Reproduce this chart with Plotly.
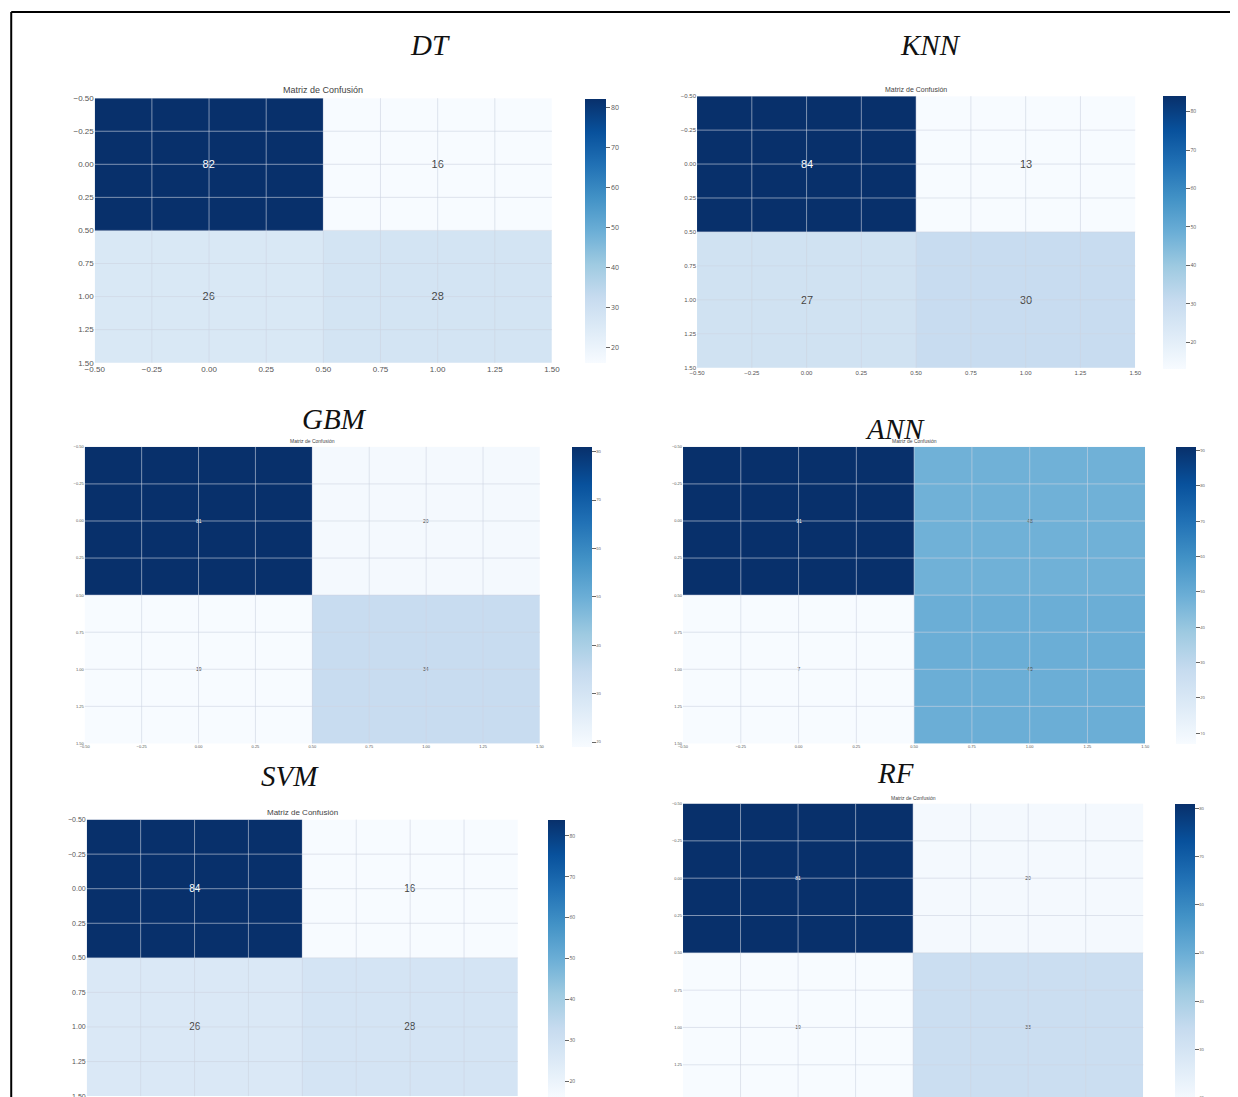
import plotly.graph_objects as go
from plotly.colors import sequential

W, H = 1238, 1097
HF = 1112  # figure slightly taller than the window so the bottom panels run off the edge

# ---------------- data ----------------
models = ["DT", "KNN", "GBM", "ANN", "SVM", "RF"]
cm_dt = [[82, 16], [26, 28]]
cm_knn = [[84, 13], [27, 30]]
cm_gbm = [[81, 20], [19, 34]]
cm_ann = [[91, 48], [7, 49]]
cm_svm = [[84, 16], [26, 28]]
cm_rf = [[81, 20], [19, 33]]
matrices = [cm_dt, cm_knn, cm_gbm, cm_ann, cm_svm, cm_rf]
classes = [0, 1]
axis_ticks = [-0.5, -0.25, 0.0, 0.25, 0.5, 0.75, 1.0, 1.25, 1.5]
cbar_ticks_dt = [20, 30, 40, 50, 60, 70, 80]
cbar_ticks_knn = [20, 30, 40, 50, 60, 70, 80]
cbar_ticks_gbm = [20, 30, 40, 50, 60, 70, 80]
cbar_ticks_ann = [10, 20, 30, 40, 50, 60, 70, 80, 90]
cbar_ticks_svm = [20, 30, 40, 50, 60, 70, 80]
cbar_ticks_rf = [20, 30, 40, 50, 60, 70, 80]
cbar_ticks = [cbar_ticks_dt, cbar_ticks_knn, cbar_ticks_gbm, cbar_ticks_ann, cbar_ticks_svm, cbar_ticks_rf]
subtitle = "Matriz de Confusión"

# ---------------- layout (target pixels) ----------------
panels = [
    dict(plot=(95, 552, 98, 362), cbar=(585, 606, 99, 362), title=(430, 45), tick=8, txt=11, cbt=7),
    dict(plot=(697, 1135, 96, 367), cbar=(1163, 1186, 96, 368), title=(930, 45), tick=6, txt=11, cbt=5),
    dict(plot=(85, 540, 446, 742), cbar=(572, 592, 446, 745), title=(335, 418), tick=4, txt=5, cbt=4),
    dict(plot=(683, 1145, 446, 742), cbar=(1176, 1196, 446, 742), title=(895, 428), tick=4, txt=5, cbt=4),
    dict(plot=(87, 518, 818, 1094), cbar=(548, 565, 818, 1095), title=(290, 775), tick=7, txt=10, cbt=5),
    dict(plot=(683, 1143, 802, 1100), cbar=(1175, 1195, 802, 1100), title=(895, 772), tick=4, txt=5, cbt=4),
]

def clamp(v):
    return max(0.0, min(1.0, v))

# empirical correction between target pixels and layout pixels
def dx(x):
    return (x - 10.3) / 0.985

def dy(y):
    return (y - 4) / 0.99

def px(x):
    return clamp(dx(x) / W)

def py(y):
    return clamp(1 - dy(y) / HF)

blues = [[i / (len(sequential.Blues) - 1), c] for i, c in enumerate(sequential.Blues)]

fig = go.Figure()
annotations = []
shapes = []

for i, (name, cm, p, cbt) in enumerate(zip(models, matrices, panels, cbar_ticks)):
    n = "" if i == 0 else str(i + 1)
    xa, ya = "x" + n, "y" + n
    x0, x1, y0, y1 = p["plot"]
    c0, c1, cy0, cy1 = p["cbar"]
    fig.add_trace(go.Heatmap(
        z=cm, x=classes, y=classes, xaxis=xa, yaxis=ya,
        colorscale=blues, zmin=min(min(r) for r in cm), zmax=max(max(r) for r in cm),
        texttemplate="%{z}", textfont=dict(size=p["txt"], family="Arial, Liberation Sans"),
        hoverinfo="z",
        colorbar=dict(
            x=px(c0), xanchor="left", xpad=0, ypad=0,
            thickness=(dx(c1) - dx(c0)), thicknessmode="pixels",
            y=py(cy0), yanchor="top", len=py(cy0) - py(cy1), lenmode="fraction",
            tickvals=cbt, ticks="outside", ticklen=4, tickcolor="#666",
            tickfont=dict(size=p["cbt"], color="#555"), outlinewidth=0,
        ),
    ))
    axis_common = dict(
        tickvals=axis_ticks, tickformat=".2f", showgrid=False, zeroline=False,
        showline=False, ticks="", tickfont=dict(size=p["tick"], color="#555",
                                               family="Arial, Liberation Sans"),
        range=[-0.5, 1.5],
    )
    fig.layout["xaxis" + n] = dict(axis_common, domain=[px(x0), px(x1)], anchor=ya)
    fig.layout["yaxis" + n] = dict(axis_common, domain=[py(y1), py(y0)], anchor=xa,
                                   range=[1.5, -0.5])
    for t in axis_ticks[1:-1]:
        shapes.append(dict(type="line", xref=xa, yref=ya + " domain", x0=t, x1=t, y0=0, y1=1,
                           line=dict(color="rgba(205,212,225,0.6)", width=1), layer="above"))
        shapes.append(dict(type="line", xref=xa + " domain", yref=ya, x0=0, x1=1, y0=t, y1=t,
                           line=dict(color="rgba(205,212,225,0.6)", width=1), layer="above"))
    annotations.append(dict(text=subtitle, xref="paper", yref="paper",
                            x=px((x0 + x1) / 2), y=py(y0 - 1), xanchor="center", yanchor="bottom",
                            showarrow=False, font=dict(size=max(p["tick"] + 1, 5), color="#444",
                                                       family="Arial, Liberation Sans")))
    tx, ty = p["title"]
    annotations.append(dict(text="<i>" + name + "</i>", xref="paper", yref="paper",
                            x=px(tx), y=py(ty), xanchor="center", yanchor="middle",
                            showarrow=False,
                            font=dict(size=29, color="#111", family="Liberation Serif, Times New Roman")))

# outer frame (top and left)
shapes.append(dict(type="line", xref="paper", yref="paper", x0=0.001, x1=1, y0=py(12), y1=py(12),
                   line=dict(color="black", width=2)))
shapes.append(dict(type="line", xref="paper", yref="paper", x0=0.001, x1=0.001, y0=py(12), y1=0,
                   line=dict(color="black", width=2)))

fig.update_layout(
    width=W, height=HF, margin=dict(l=0, r=0, t=0, b=0),
    paper_bgcolor="white", plot_bgcolor="white",
    annotations=annotations, shapes=shapes, showlegend=False,
)

fig.write_html("out.html", config={"displayModeBar": False},
               post_script="document.body.style.margin='0';document.body.style.overflow='hidden';")
